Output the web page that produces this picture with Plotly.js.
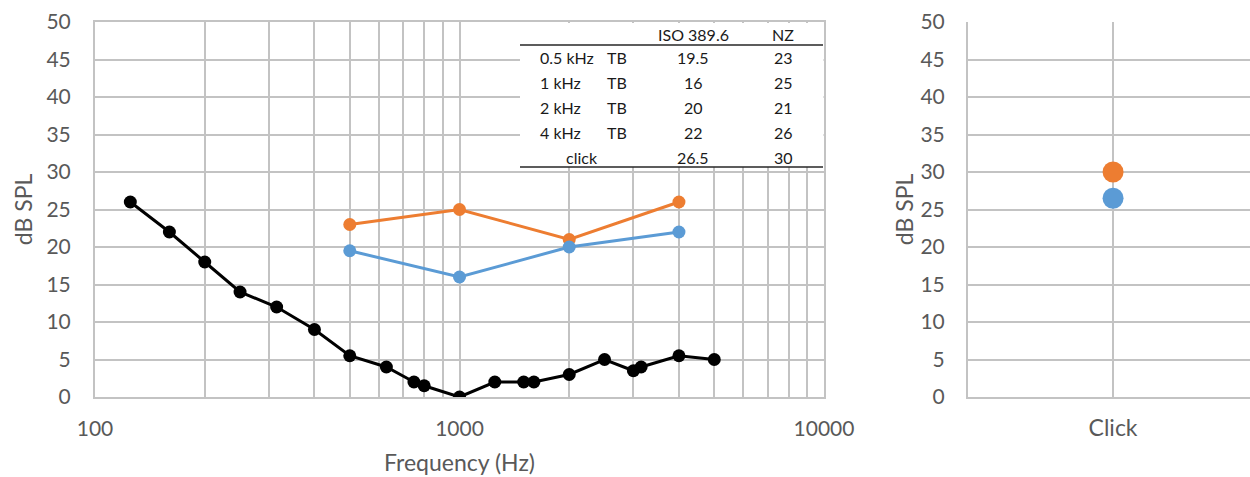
<!DOCTYPE html>
<html>
<head>
<meta charset="utf-8">
<script src="https://cdn.plot.ly/plotly-3.0.1.min.js"></script>
<style>html,body{margin:0;padding:0;background:#fff;}#chart{width:1250px;height:477px;}</style>
</head>
<body>
<div id="chart"></div>
<script>
// Reference threshold curve (black)
const refFreq = [125, 160, 200, 250, 315, 400, 500, 630, 750, 800, 1000, 1250, 1500, 1600, 2000, 2500, 3000, 3150, 4000, 5000];
const refLevel = [26, 22, 18, 14, 12, 9, 5.5, 4, 2, 1.5, 0, 2, 2, 2, 3, 5, 3.5, 4, 5.5, 5];

// Tone-burst thresholds
const tbFreq = [500, 1000, 2000, 4000];
const isoTB = [19.5, 16, 20, 22];
const nzTB = [23, 25, 21, 26];

// Click thresholds
const clickCategory = ["Click"];
const isoClick = [26.5];
const nzClick = [30];

// Table text
const tableHeader = ["", "", "ISO 389.6", "NZ"];
const tableRowLabels = ["0.5 kHz", "1 kHz", "2 kHz", "4 kHz", "click"];
const tableStim = ["TB", "TB", "TB", "TB", ""];
const tableIso = ["19.5", "16", "20", "22", "26.5"];
const tableNz = ["23", "25", "21", "26", "30"];

// Axis ticks
const xTickVals = [100, 200, 300, 400, 500, 600, 700, 800, 900, 1000, 2000, 3000, 4000, 5000, 6000, 7000, 8000, 9000, 10000];
const xTickText = ["100", "", "", "", "", "", "", "", "", "1000", "", "", "", "", "", "", "", "", "10000"];
const yTitle = "dB SPL";
const xTitle = "Frequency (Hz)";

const ORANGE = "#ED7D31", BLUE = "#5B9BD5", GRID = "#C3C3C3", TXT = "#595959";
const FONT = "Lato, 'Open Sans', sans-serif";

const traces = [
  {x: refFreq, y: refLevel, type: "scatter", mode: "lines+markers", xaxis: "x", yaxis: "y",
   line: {color: "#000", width: 3}, marker: {color: "#000", size: 13}},
  {x: tbFreq, y: nzTB, type: "scatter", mode: "lines+markers", xaxis: "x", yaxis: "y",
   line: {color: ORANGE, width: 3}, marker: {color: ORANGE, size: 13}},
  {x: tbFreq, y: isoTB, type: "scatter", mode: "lines+markers", xaxis: "x", yaxis: "y",
   line: {color: BLUE, width: 3}, marker: {color: BLUE, size: 13}},
  {x: [0], y: nzClick, type: "scatter", mode: "markers", xaxis: "x2", yaxis: "y2",
   marker: {color: ORANGE, size: 21}},
  {x: [0], y: isoClick, type: "scatter", mode: "markers", xaxis: "x2", yaxis: "y2",
   marker: {color: BLUE, size: 21}}
];

// table geometry in pixels -> paper coordinates
const W = 1250, TOP = 22, BOT = 397, H = BOT - TOP;
const px = v => v / W;
const py = v => (BOT - v) / H;
const tL = 520, tR = 823, tTop = 22, tHead = 45, tBot = 167;
const rowY = [58, 83, 107.5, 132, 157];
const headerY = 35;

const shapes = [
  {type: "rect", xref: "paper", yref: "paper", x0: px(tL), x1: px(tR + 0.5), y0: py(tBot), y1: py(tTop + 1),
   fillcolor: "#fff", line: {width: 0}, layer: "above"},
  {type: "line", xref: "paper", yref: "paper", x0: px(tL), x1: px(tR), y0: py(tHead), y1: py(tHead),
   line: {color: "#262626", width: 1.3}, layer: "above"},
  {type: "line", xref: "paper", yref: "paper", x0: px(tL), x1: px(tR), y0: py(tBot), y1: py(tBot),
   line: {color: "#262626", width: 1.3}, layer: "above"}
];

const annotations = [];
const tf = {family: FONT, size: 16, color: "#1a1a1a"};
function ann(text, x, y, anchor) {
  annotations.push({text: text, xref: "paper", yref: "paper", x: px(x), y: py(y),
    xanchor: anchor, yanchor: "middle", showarrow: false, font: tf});
}
ann(tableHeader[2], 693, headerY, "center");
ann(tableHeader[3], 783, headerY, "center");
tableRowLabels.forEach((lab, i) => {
  if (tableStim[i]) {
    ann(lab, 538, rowY[i], "left");
    ann(tableStim[i], 605, rowY[i], "left");
  } else {
    ann(lab, 582, rowY[i], "center");
  }
  ann(tableIso[i], 693, rowY[i], "center");
  ann(tableNz[i], 783, rowY[i], "center");
});

const tickFont = {family: FONT, size: 21, color: TXT};
const titleFont = {family: FONT, size: 23, color: TXT};

const layout = {
  width: 1250, height: 477,
  margin: {l: 0, r: 0, t: TOP, b: 477 - BOT},
  paper_bgcolor: "#fff", plot_bgcolor: "#fff",
  showlegend: false,
  font: {family: FONT, color: TXT},
  xaxis: {domain: [95 / W, 824 / W], type: "log", range: [2, 4],
    tickvals: xTickVals, ticktext: xTickText, tickfont: tickFont,
    showgrid: true, gridcolor: GRID, gridwidth: 2,
    showline: true, linecolor: GRID, linewidth: 2, mirror: true,
    ticks: "", ticklabelstandoff: 12, zeroline: false,
    title: {text: xTitle, font: titleFont, standoff: 16}},
  yaxis: {domain: [0, 1], range: [0, 50], dtick: 5, tickfont: tickFont,
    showgrid: true, gridcolor: GRID, gridwidth: 2,
    showline: true, linecolor: GRID, linewidth: 2, mirror: true,
    ticks: "", ticklabelstandoff: 18, zeroline: false,
    title: {text: yTitle, font: titleFont, standoff: 7}},
  xaxis2: {domain: [968 / W, 1], range: [-0.5, 0.472], anchor: "y2",
    tickvals: [0], ticktext: clickCategory, tickfont: {family: FONT, size: 23, color: TXT},
    showgrid: true, gridcolor: GRID, gridwidth: 2,
    showline: true, linecolor: GRID, linewidth: 2,
    ticks: "", ticklabelstandoff: 9, zeroline: false},
  yaxis2: {domain: [0, 1], range: [0, 50], dtick: 5, anchor: "x2", tickfont: tickFont,
    showgrid: true, gridcolor: GRID, gridwidth: 2,
    showline: true, linecolor: GRID, linewidth: 2,
    ticks: "", ticklabelstandoff: 17, zeroline: false,
    title: {text: yTitle, font: titleFont, standoff: 0}},
  shapes: shapes,
  annotations: annotations
};

Plotly.newPlot("chart", traces, layout, {displayModeBar: false, staticPlot: true});
</script>
</body>
</html>
